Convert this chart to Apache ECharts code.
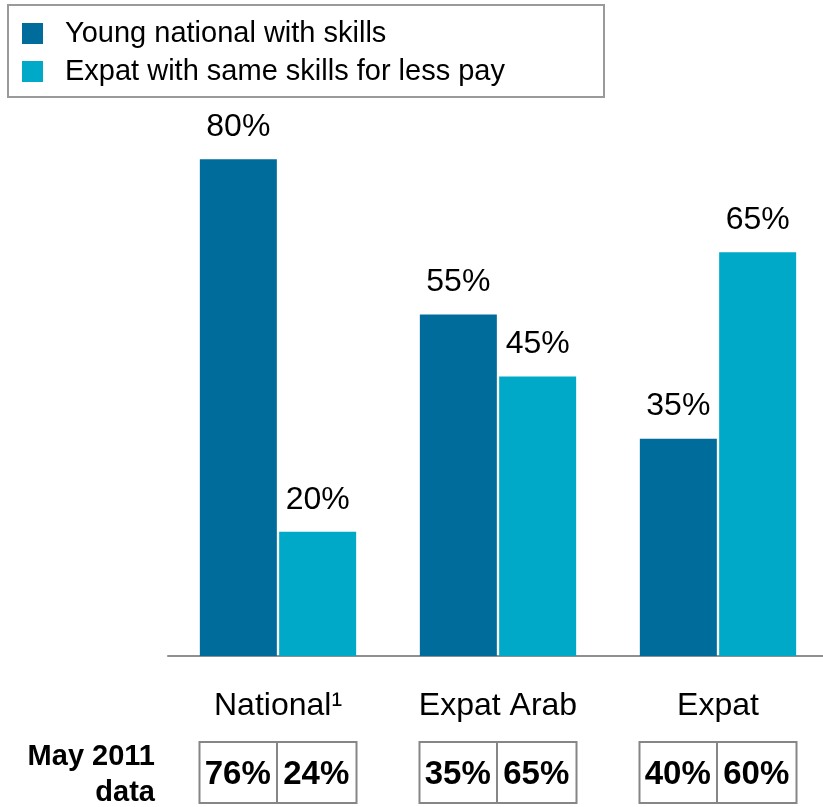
<!DOCTYPE html>
<html>
<head>
<meta charset="utf-8">
<script src="https://cdn.jsdelivr.net/npm/echarts@6/dist/echarts.min.js"></script>
<style>
  html, body { margin: 0; padding: 0; background: #ffffff; }
  #chart { width: 823px; height: 807px; }
</style>
</head>
<body>
<div id="chart"></div>
<script>
// Preference shares by respondent group
const categories = ['National\u00B9', 'Expat Arab', 'Expat'];
const seriesNames = ['Young national with skills', 'Expat with same skills for less pay'];
const youngNational = [80, 55, 35];
const expatLessPay = [20, 45, 65];
// Earlier survey wave shown in the table under the axis
const may2011Young = [76, 35, 40];
const may2011Expat = [24, 65, 60];
const tableTitle = 'May 2011\ndata';

const COLOR_DARK = '#006C9C';
const COLOR_LIGHT = '#00A9C8';
const FONT = 'Liberation Sans, Arial, Helvetica, sans-serif';
const BAR_W = 77;

const chart = echarts.init(document.getElementById('chart'), null, { renderer: 'canvas' });

const pct = v => v + '%';

chart.setOption({
  animation: false,
  backgroundColor: '#ffffff',
  textStyle: { fontFamily: FONT },
  legend: {
    orient: 'vertical',
    left: 17,
    top: 14,
    itemWidth: 21,
    itemHeight: 21,
    itemGap: 9,
    icon: 'rect',
    selectedMode: false,
    data: seriesNames,
    textStyle: {
      fontFamily: FONT,
      fontSize: 29,
      lineHeight: 29,
      color: '#000',
      padding: [0, 0, 0, 17]
    }
  },
  grid: {
    left: 168, width: 660, top: 35, bottom: 151,
    containLabel: false, outerBoundsMode: 'none'
  },
  xAxis: {
    type: 'category',
    data: categories,
    axisLine: { show: true, lineStyle: { color: '#8f8f8f', width: 2 } },
    axisTick: { show: false },
    axisLabel: { color: '#000', fontFamily: FONT, fontSize: 32, margin: 34 }
  },
  yAxis: {
    type: 'value',
    min: 0,
    max: 100,
    show: false,
    splitLine: { show: false }
  },
  series: [
    {
      name: seriesNames[0],
      type: 'bar',
      data: youngNational,
      barWidth: BAR_W,
      barGap: '3%',
      itemStyle: { color: COLOR_DARK },
      label: {
        show: true, position: 'top', distance: 16,
        formatter: p => pct(p.value),
        color: '#000', fontFamily: FONT, fontSize: 32
      }
    },
    {
      name: seriesNames[1],
      type: 'bar',
      data: expatLessPay,
      barWidth: BAR_W,
      barGap: '3%',
      itemStyle: { color: COLOR_LIGHT },
      label: {
        show: true, position: 'top', distance: 16,
        formatter: p => pct(p.value),
        color: '#000', fontFamily: FONT, fontSize: 32
      }
    }
  ]
});

// Legend frame and the May 2011 comparison table, placed from the axis scale
function drawExtras() {
  const elements = [];
  elements.push({
    type: 'rect',
    shape: { x: 8, y: 5, width: 596, height: 92 },
    style: { fill: 'none', stroke: '#9a9a9a', lineWidth: 2 },
    silent: true, z: 0
  });
  elements.push({
    type: 'text',
    x: 155, y: 775,
    style: {
      text: tableTitle,
      fontFamily: FONT, fontSize: 29, fontWeight: 'bold', fill: '#000',
      align: 'right', verticalAlign: 'middle', lineHeight: 36
    }
  });
  const half = BAR_W + 1.5;
  const boxTop = 742, boxH = 61;
  categories.forEach((c, i) => {
    const cx = chart.convertToPixel({ xAxisIndex: 0 }, i);
    elements.push({
      type: 'rect',
      shape: { x: cx - half, y: boxTop, width: half * 2, height: boxH },
      style: { fill: '#fff', stroke: '#868686', lineWidth: 2 }
    });
    elements.push({
      type: 'line',
      shape: { x1: cx - 1, y1: boxTop, x2: cx - 1, y2: boxTop + boxH },
      style: { stroke: '#868686', lineWidth: 2 }
    });
    [[may2011Young[i], cx - half / 2 - 1], [may2011Expat[i], cx + half / 2 - 1]].forEach(([v, tx]) => {
      elements.push({
        type: 'text',
        x: tx, y: boxTop + boxH / 2 + 2,
        style: {
          text: pct(v),
          fontFamily: FONT, fontSize: 33, fontWeight: 'bold', fill: '#000',
          align: 'center', verticalAlign: 'middle'
        }
      });
    });
  });
  chart.setOption({ graphic: { elements } });
}
drawExtras();
</script>
</body>
</html>
